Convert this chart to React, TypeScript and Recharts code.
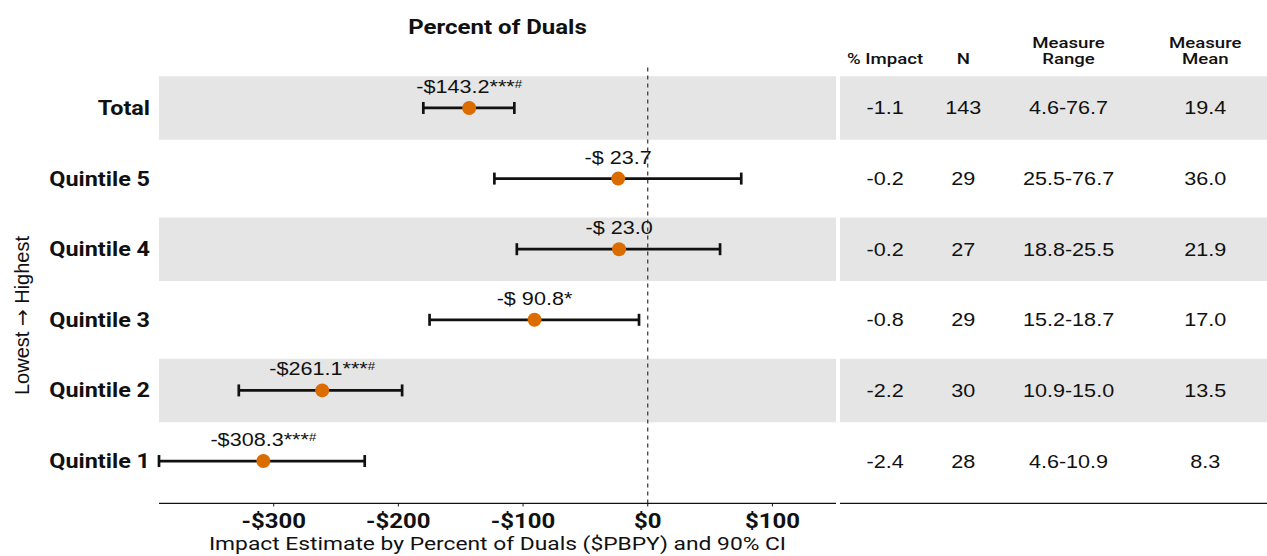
import React from "react";
import {
  ScatterChart,
  Scatter,
  XAxis,
  YAxis,
  ErrorBar,
  ReferenceArea,
  ReferenceLine,
} from "recharts";

// rows, top to bottom
const categories = ["Total", "Quintile 5", "Quintile 4", "Quintile 3", "Quintile 2", "Quintile 1"];
const estimates = [-143.2, -23.7, -23.0, -90.8, -261.1, -308.3];
const ciLower = [-180, -123, -105, -175, -328, -392];
const ciUpper = [-107, 75, 58, -7, -197, -227];
const estLabels = ["-$143.2", "-$ 23.7", "-$ 23.0", "-$ 90.8", "-$261.1", "-$308.3"];
const stars = ["***", "", "", "*", "***", "***"];
const hashes = ["#", "", "", "", "#", "#"];
const shaded = [true, false, true, false, true, false];

// table on the right
const tableHeaders = [["% Impact"], ["N"], ["Measure", "Range"], ["Measure", "Mean"]];
const pctImpact = ["-1.1", "-0.2", "-0.2", "-0.8", "-2.2", "-2.4"];
const nObs = ["143", "29", "27", "29", "30", "28"];
const measureRange = ["4.6-76.7", "25.5-76.7", "18.8-25.5", "15.2-18.7", "10.9-15.0", "4.6-10.9"];
const measureMean = ["19.4", "36.0", "21.9", "17.0", "13.5", "8.3"];

const xTicks = [-300, -200, -100, 0, 100];
const X_DOMAIN: [number, number] = [-392, 151];
const Y_DOMAIN: [number, number] = [-0.6, 5.6];
const COL_X = [0.57, 1.56, 2.89, 4.62];
const TABLE_DOMAIN: [number, number] = [0, 5.4];

const DOT = "#DB6D00";
const INK = "#111111";
const BAND = "#E5E5E5";
const ROBOTO = "Roboto, sans-serif";
const ARIAL = "'Liberation Sans', Arial, sans-serif";

const rowY = (i: number) => categories.length - 1 - i;

const forestData = categories.map((c, i) => ({
  name: c,
  row: rowY(i),
  est: estimates[i],
  err: [estimates[i] - ciLower[i], ciUpper[i] - estimates[i]],
  idx: i,
}));

const tableColumns = [pctImpact, nObs, measureRange, measureMean];
const tableCells = tableColumns.flatMap((col, c) =>
  col.map((v, i) => ({ col: COL_X[c], row: rowY(i), text: v }))
);
const headerCells = tableHeaders.map((lines, c) => ({ col: COL_X[c], row: Y_DOMAIN[1], lines }));

const money = (v: number) => (v < 0 ? `-$${-v}` : `$${v}`);

const PointShape = (props: any) => {
  const { cx, cy, payload } = props;
  const i = payload.idx;
  return (
    <g>
      <circle cx={cx} cy={cy} r={7} fill={DOT} />
      <text x={cx} y={cy - 15} textAnchor="middle" fontFamily={ARIAL} fontSize={18} fill={INK}>
        {estLabels[i]}
        {stars[i]}
        {hashes[i] ? (
          <tspan fontSize={11} dy={-5}>
            {hashes[i]}
          </tspan>
        ) : null}
      </text>
    </g>
  );
};

const CellShape = (props: any) => {
  const { cx, cy, payload } = props;
  return (
    <text x={cx} y={cy + 6.5} textAnchor="middle" fontFamily={ARIAL} fontSize={18} fill={INK}>
      {payload.text}
    </text>
  );
};

const HeaderShape = (props: any) => {
  const { cx, cy, payload } = props;
  const lines: string[] = payload.lines;
  return (
    <g>
      {lines.map((l, k) => (
        <text
          key={k}
          x={cx}
          y={cy - 2 - (lines.length - 1 - k) * 16}
          textAnchor="middle"
          fontFamily={ROBOTO}
          fontWeight={500}
          fontSize={15.5}
          fill={INK}
        >
          {l}
        </text>
      ))}
    </g>
  );
};

const RowTick = (props: any) => {
  const { x, y, payload } = props;
  return (
    <text
      x={x}
      y={y + 7}
      textAnchor="end"
      fontFamily={ROBOTO}
      fontWeight={700}
      fontSize={19.5}
      fill={INK}
      style={{ transformOrigin: "100% 50%" }}
    >
      {categories[rowY(payload.value)]}
    </text>
  );
};

const SideLabel = (props: any) => {
  const vb = props.viewBox || { x: 0, y: 0, height: 0 };
  const x = vb.x + 29;
  const y = vb.y + vb.height / 2 + 31;
  return (
    <text x={x} y={y} transform={`rotate(-90 ${x} ${y})`} textAnchor="middle" fontFamily={ARIAL} fontSize={20} fill={INK}>
      Lowest <tspan fontFamily="'DejaVu Sans', sans-serif">→</tspan> Highest
    </text>
  );
};

const css = `
.forest text:not([transform*="rotate"]) { transform-box: fill-box; transform-origin: 50% 50%; transform: scaleX(1.2); }
`;

export default function App() {
  return (
    <div
      className="forest"
      style={{ position: "absolute", left: 0, top: 0, width: 1267, height: 556, background: "#fff", overflow: "hidden" }}
    >
      <style>{css}</style>
      <div
        style={{
          position: "absolute",
          left: 159,
          top: 17,
          width: 677,
          textAlign: "center",
          fontFamily: ROBOTO,
          fontWeight: 700,
          fontSize: 20,
          lineHeight: "20px",
          color: INK,
          transform: "scaleX(1.2)",
        }}
      >
        Percent of Duals
      </div>

      <div style={{ position: "absolute", left: 0, top: 0 }}>
        <ScatterChart width={838} height={556} margin={{ top: 65.6, right: 2, bottom: 0, left: 0 }}>
          {forestData
            .filter((d) => shaded[d.idx])
            .map((d) => (
              <ReferenceArea
                key={d.name}
                x1={X_DOMAIN[0]}
                x2={X_DOMAIN[1]}
                y1={d.row - 0.45}
                y2={d.row + 0.45}
                fill={BAND}
                fillOpacity={1}
                stroke="none"
              />
            ))}
          <XAxis
            type="number"
            dataKey="est"
            domain={X_DOMAIN}
            ticks={xTicks}
            allowDataOverflow
            tickFormatter={money}
            height={52.6}
            axisLine={{ stroke: INK, strokeWidth: 1.3 }}
            tickLine={{ stroke: INK }}
            tickSize={3}
            tickMargin={7}
            tick={{ fontFamily: ROBOTO, fontWeight: 700, fontSize: 20, fill: INK }}
            label={{
              value: "Impact Estimate by Percent of Duals ($PBPY) and 90% CI",
              position: "insideBottom",
              offset: 6,
              fontFamily: ROBOTO,
              fontSize: 19,
              fill: INK,
            }}
          />
          <YAxis
            type="number"
            dataKey="row"
            domain={Y_DOMAIN}
            ticks={[0, 1, 2, 3, 4, 5]}
            interval={0}
            width={159}
            axisLine={false}
            tickLine={false}
            tickSize={0}
            tickMargin={9}
            tick={RowTick}
            label={{ content: SideLabel }}
          />
          <ReferenceLine x={0} stroke="#333" strokeDasharray="4 4" strokeWidth={1.2} />
          <Scatter data={forestData} shape={PointShape} isAnimationActive={false}>
            <ErrorBar dataKey="err" direction="x" width={6} stroke={INK} strokeWidth={2.7} />
          </Scatter>
        </ScatterChart>
      </div>

      <div style={{ position: "absolute", left: 838, top: 0 }}>
        <ScatterChart width={429} height={556} margin={{ top: 65.6, right: 0, bottom: 0, left: 2 }}>
          {forestData
            .filter((d) => shaded[d.idx])
            .map((d) => (
              <ReferenceArea
                key={d.name}
                x1={TABLE_DOMAIN[0]}
                x2={TABLE_DOMAIN[1]}
                y1={d.row - 0.45}
                y2={d.row + 0.45}
                fill={BAND}
                fillOpacity={1}
                stroke="none"
              />
            ))}
          <XAxis
            type="number"
            dataKey="col"
            domain={TABLE_DOMAIN}
            ticks={[]}
            height={52.6}
            tick={false}
            tickLine={false}
            axisLine={{ stroke: INK, strokeWidth: 1.3 }}
          />
          <YAxis type="number" dataKey="row" domain={Y_DOMAIN} hide />
          <Scatter data={tableCells} shape={CellShape} isAnimationActive={false} />
          <Scatter data={headerCells} shape={HeaderShape} isAnimationActive={false} />
        </ScatterChart>
      </div>
    </div>
  );
}
